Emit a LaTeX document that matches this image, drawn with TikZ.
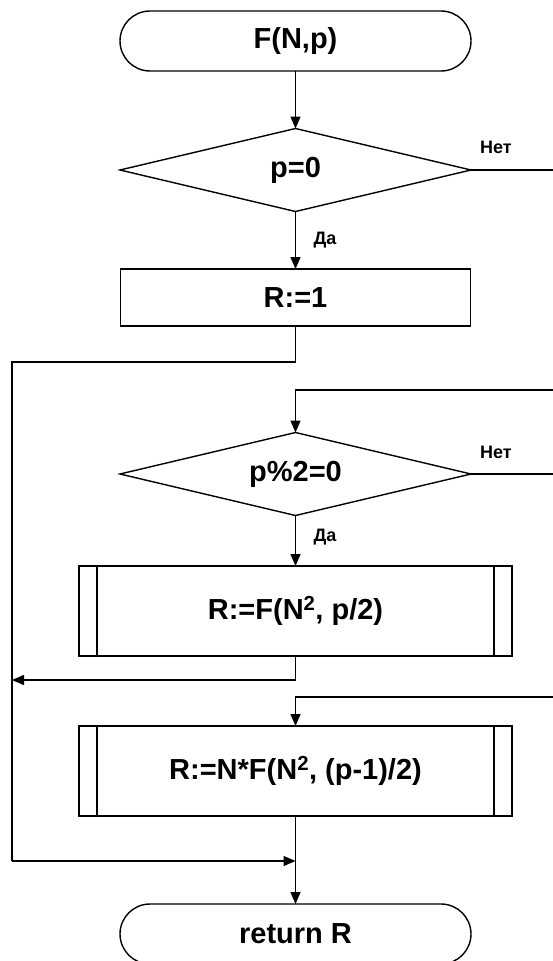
\documentclass[tikz,border=0pt]{standalone}
\usepackage{fontspec}
\setmainfont{Liberation Sans}
\usetikzlibrary{shapes.geometric,arrows.meta}
\begin{document}
\begin{tikzpicture}[x=1pt,y=-1pt,
  line width=1.4pt,
  every node/.style={inner sep=0pt, outer sep=0pt},
  bigtext/.style={font=\fontsize{29}{34}\selectfont\bfseries},
  lbl/.style={font=\fontsize{18}{21}\selectfont\bfseries},
  terminal/.style={draw, bigtext, rectangle, rounded corners=30pt, minimum width=351pt, minimum height=60pt},
  decision/.style={draw, bigtext, diamond, aspect=4.23, minimum width=351pt, minimum height=83pt},
  procbox/.style={draw, bigtext, rectangle, minimum width=350pt, minimum height=57pt},
  subproc/.style={draw, bigtext, rectangle, minimum width=433pt, minimum height=90pt,
    path picture={
      \draw[line width=1.4pt] ([xshift=18pt]path picture bounding box.north west) -- ([xshift=18pt]path picture bounding box.south west);
      \draw[line width=1.4pt] ([xshift=-18pt]path picture bounding box.north east) -- ([xshift=-18pt]path picture bounding box.south east);
    }},
  arr/.style={-{Triangle[length=12pt,width=10pt]}}
]
\useasboundingbox (0,0) rectangle (553,961);
\fill[white] (0,0) rectangle (553,961);

\node[terminal] (start) at (295.5,41) {F(N,p)};
\node[decision] (d1) at (295.5,170) {p=0};
\node[procbox] (r1) at (295.5,297.5) {R:=1};
\node[decision] (d2) at (295.5,474) {p\%2=0};
\node[subproc] (b1) at (295.5,611) {R:=F(N\textsuperscript{2}, p/2)};
\node[subproc] (b2) at (295.5,771) {R:=N*F(N\textsuperscript{2}, (p-1)/2)};
\node[terminal] (end) at (295.5,934) {return R};

\node[lbl] (no1) at (496,147) {Нет};
\node[lbl] (yes1) at (325,240) {Да};
\node[lbl] (no2) at (496,452) {Нет};
\node[lbl] (yes2) at (325,537) {Да};

\coordinate (e1) at (553,170);
\coordinate (e2) at (553,474);
\coordinate (l1) at (553,390);
\coordinate (l2) at (553,697);
\coordinate (c1) at (295.5,362);
\coordinate (c2) at (12,362);
\coordinate (c3) at (12,861);
\coordinate (c4) at (295.5,861);
\coordinate (c5) at (295.5,680);
\coordinate (c6) at (12,680);

\draw[arr] (start.south) -- (d1.north);
\draw (d1.east) -- (e1);
\draw[arr] (d1.south) -- (r1.north);
\draw (r1.south) -- (c1) -- (c2) -- (c3);
\draw[arr] (c3) -- (c4);
\draw[arr] (l1) -- (295.5,390) -- (d2.north);
\draw (d2.east) -- (e2);
\draw[arr] (d2.south) -- (b1.north);
\draw (b1.south) -- (c5);
\draw[arr] (c5) -- (c6);
\draw[arr] (l2) -- (295.5,697) -- (b2.north);
\draw[arr] (b2.south) -- (end.north);
\end{tikzpicture}
\end{document}
